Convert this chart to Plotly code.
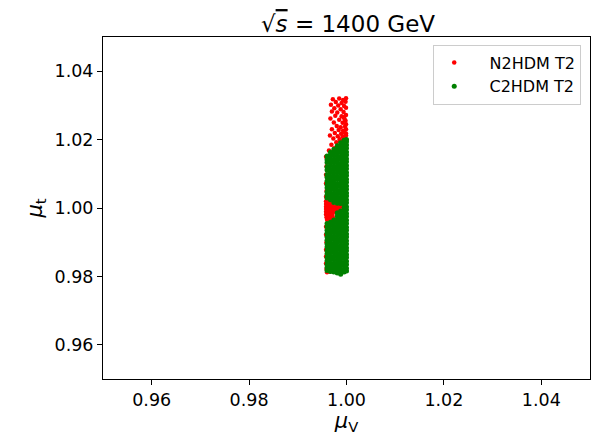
import plotly.graph_objects as go

# ---------------- data ----------------
title_text = "√<span style='text-decoration:overline'><i>s</i></span> = 1400 GeV"
series_names = ["N2HDM T2", "C2HDM T2"]
x_ticks = [0.96, 0.98, 1.00, 1.02, 1.04]
y_ticks = [0.96, 0.98, 1.00, 1.02, 1.04]

n2hdm_mu_v = [
    # upper cluster
    0.9972, 0.9985, 0.9993, 0.9999, 0.9978, 0.9990, 0.9998, 0.9968, 0.9983, 0.9995,
    0.9975, 0.9988, 0.9999, 0.9970, 0.9981, 0.9994, 0.9977, 0.9990, 0.9999, 0.9967,
    0.9985, 0.9996, 0.9974, 0.9992, 0.9999, 0.9980, 0.9988, 0.9997, 0.9970, 0.9984,
    0.9993, 0.9999, 0.9976, 0.9989, 0.9996, 0.9966, 0.9982, 0.9992, 0.9999, 0.9973,
    0.9986, 0.9995, 0.9979, 0.9990, 0.9969, 0.9984, 0.9975, 0.9964, 0.9971, 0.9998,
    0.9994, 0.9999, 0.9987, 0.9996,
    # left-edge specks
    0.9958, 0.9959, 0.9958, 0.9958, 0.9959, 0.9958,
    # central blob
    0.9958, 0.9964,
    0.9958, 0.9965, 0.9971,
    0.9958, 0.9964, 0.9970, 0.9976, 0.9982, 0.9987, 0.9991,
    0.9958, 0.9965, 0.9971, 0.9977, 0.9983,
    0.9958, 0.9964, 0.9970, 0.9976,
    0.9958, 0.9965, 0.9971,
    0.9959, 0.9966, 0.9972,
    0.9960, 0.9968,
    # lower left specks and bottom-left cluster
    0.9958, 0.9958, 0.9959, 0.9958, 0.9958, 0.9958,
    0.9959, 0.9964, 0.9960, 0.9966,
]
n2hdm_mu_t = [
    # upper cluster
    1.0318, 1.0320, 1.0316, 1.0321, 1.0310, 1.0307, 1.0311, 1.0302, 1.0300, 1.0298,
    1.0292, 1.0289, 1.0293, 1.0282, 1.0279, 1.0281, 1.0270, 1.0268, 1.0272, 1.0262,
    1.0258, 1.0260, 1.0250, 1.0249, 1.0245, 1.0240, 1.0236, 1.0238, 1.0230, 1.0228,
    1.0226, 1.0230, 1.0219, 1.0217, 1.0220, 1.0212, 1.0210, 1.0208, 1.0212, 1.0203,
    1.0201, 1.0200, 1.0192, 1.0190, 1.0185, 1.0182, 1.0175, 1.0168, 1.0162, 1.0255,
    1.0265, 1.0218, 1.0196, 1.0206,
    # left-edge specks
    1.0150, 1.0122, 1.0097, 1.0072, 1.0050, 1.0033,
    # central blob
    1.0020, 1.0020,
    1.0012, 1.0012, 1.0012,
    1.0004, 1.0004, 1.0004, 1.0004, 1.0004, 1.0004, 1.0004,
    0.9997, 0.9997, 0.9997, 0.9997, 0.9997,
    0.9989, 0.9989, 0.9989, 0.9989,
    0.9981, 0.9981, 0.9981,
    0.9973, 0.9973, 0.9973,
    0.9966, 0.9966,
    # lower left specks and bottom-left cluster
    0.9945, 0.9922, 0.9900, 0.9878, 0.9858, 0.9838,
    0.9822, 0.9818, 0.9812, 0.9814,
]

c2hdm_mu_v_columns = [0.9960, 0.9967, 0.9974, 0.9981, 0.9988, 0.9995, 1.0000]
c2hdm_mu_t_col1 = [1.0152, 1.0141, 1.0133, 1.0120, 1.0111, 1.0098, 1.0090, 1.0079, 1.0068,
                   1.0059, 1.0047, 1.0038, 1.0029, 0.9955, 0.9946, 0.9935, 0.9926, 0.9915,
                   0.9906, 0.9895, 0.9886, 0.9875, 0.9866, 0.9855, 0.9846, 0.9835, 0.9826,
                   0.9817]
c2hdm_mu_t_col2 = [1.0163, 1.0154, 1.0144, 1.0133, 1.0124, 1.0113, 1.0104, 1.0093, 1.0084,
                   1.0073, 1.0064, 1.0053, 1.0044, 1.0033, 1.0024, 0.9958, 0.9949, 0.9938,
                   0.9929, 0.9918, 0.9909, 0.9898, 0.9889, 0.9878, 0.9869, 0.9858, 0.9849,
                   0.9838, 0.9829, 0.9820, 0.9814]
c2hdm_mu_t_col3 = [1.0172, 1.0162, 1.0153, 1.0142, 1.0133, 1.0122, 1.0113, 1.0102, 1.0093,
                   1.0082, 1.0073, 1.0062, 1.0053, 1.0042, 1.0033, 1.0024, 1.0016, 0.9965,
                   0.9956, 0.9947, 0.9938, 0.9929, 0.9918, 0.9909, 0.9898, 0.9889,
                   0.9878, 0.9869, 0.9858, 0.9849, 0.9838, 0.9829, 0.9820, 0.9813]
c2hdm_mu_t_col4 = [1.0182, 1.0172, 1.0163, 1.0152, 1.0143, 1.0132, 1.0123, 1.0112, 1.0103,
                   1.0092, 1.0083, 1.0072, 1.0063, 1.0052, 1.0043, 1.0032, 1.0023, 1.0014,
                   0.9986, 0.9977, 0.9968, 0.9959, 0.9948, 0.9939, 0.9928, 0.9919, 0.9908,
                   0.9899, 0.9888, 0.9879, 0.9868, 0.9859, 0.9848, 0.9839, 0.9828, 0.9819,
                   0.9810]
c2hdm_mu_t_col5 = [1.0191, 1.0182, 1.0171, 1.0162, 1.0151, 1.0142, 1.0131, 1.0122, 1.0111,
                   1.0102, 1.0091, 1.0082, 1.0071, 1.0062, 1.0051, 1.0042, 1.0031, 1.0022,
                   1.0013, 0.9991, 0.9982, 0.9971, 0.9962, 0.9951, 0.9942, 0.9931, 0.9922,
                   0.9911, 0.9902, 0.9891, 0.9882, 0.9871, 0.9862, 0.9851, 0.9842, 0.9831,
                   0.9822, 0.9813, 0.9806]
c2hdm_mu_t_col6 = [1.0198, 1.0191, 1.0181, 1.0172, 1.0161, 1.0152, 1.0141, 1.0132, 1.0121,
                   1.0112, 1.0101, 1.0092, 1.0081, 1.0072, 1.0061, 1.0052, 1.0041, 1.0032,
                   1.0021, 1.0012, 1.0001, 0.9992, 0.9981, 0.9972, 0.9961, 0.9952, 0.9941,
                   0.9932, 0.9921, 0.9912, 0.9901, 0.9892, 0.9881, 0.9872, 0.9861, 0.9852,
                   0.9841, 0.9832, 0.9821, 0.9813]
c2hdm_mu_t_col7 = [1.0200, 1.0194, 1.0184, 1.0175, 1.0164, 1.0155, 1.0144, 1.0135, 1.0124,
                   1.0115, 1.0104, 1.0095, 1.0084, 1.0075, 1.0064, 1.0055, 1.0044, 1.0035,
                   1.0024, 1.0015, 1.0004, 0.9995, 0.9984, 0.9975, 0.9964, 0.9955, 0.9944,
                   0.9935, 0.9924, 0.9915, 0.9904, 0.9895, 0.9884, 0.9875, 0.9864, 0.9855,
                   0.9844, 0.9835, 0.9824, 0.9816]

# ---------------- build ----------------
c2hdm_cols = [c2hdm_mu_t_col1, c2hdm_mu_t_col2, c2hdm_mu_t_col3, c2hdm_mu_t_col4,
              c2hdm_mu_t_col5, c2hdm_mu_t_col6, c2hdm_mu_t_col7]
c2hdm_mu_v, c2hdm_mu_t = [], []
for xv, col in zip(c2hdm_mu_v_columns, c2hdm_cols):
    for yv in col:
        c2hdm_mu_v.append(xv)
        c2hdm_mu_t.append(yv)

FONT = "DejaVu Sans"
PAD = "&nbsp;&nbsp;&nbsp;"

fig = go.Figure()
fig.add_trace(go.Scatter(
    x=n2hdm_mu_v, y=n2hdm_mu_t, mode="markers", name=PAD + series_names[0],
    marker=dict(color="#ff0000", size=4.5, line=dict(width=0)),
))
fig.add_trace(go.Scatter(
    x=c2hdm_mu_v, y=c2hdm_mu_t, mode="markers", name=PAD + series_names[1],
    marker=dict(color="#008000", size=5, line=dict(width=0)),
))

axis_common = dict(
    showgrid=False, zeroline=False, showline=True, linecolor="black", linewidth=1,
    mirror=True, ticks="outside", ticklen=5, tickwidth=1, tickcolor="black",
    tickfont=dict(family=FONT, size=17.5, color="black"),
)

fig.update_layout(
    width=596, height=435,
    margin=dict(l=103, r=5, t=37, b=53),
    paper_bgcolor="white", plot_bgcolor="white",
    font=dict(family=FONT, color="black"),
    title=dict(text=title_text, x=348 / 596, xref="container", xanchor="center",
               y=1 - 24 / 435, yref="container", yanchor="middle",
               font=dict(family=FONT, size=23, color="black")),
    xaxis=dict(range=[0.95, 1.05], tickvals=x_ticks,
               ticktext=[f"{v:.2f}" for v in x_ticks],
               title=dict(text="<i>μ</i><sub>V</sub>", standoff=5,
                          font=dict(family=FONT, size=21, color="black")),
               **axis_common),
    yaxis=dict(range=[0.95, 1.05], tickvals=y_ticks,
               ticktext=[f"{v:.2f}" for v in y_ticks],
               title=dict(text="<i>μ</i><sub>t</sub>", standoff=6,
                          font=dict(family=FONT, size=21, color="black")),
               **axis_common),
    legend=dict(x=0.982, xanchor="right", y=0.978, yanchor="top",
                bgcolor="rgba(255,255,255,0.8)", bordercolor="#cccccc", borderwidth=1,
                font=dict(family=FONT, size=16, color="black"),
                itemwidth=30, tracegroupgap=0),
    showlegend=True,
    hovermode=False,
)

fig.write_html("out.html", config={"displayModeBar": False})
